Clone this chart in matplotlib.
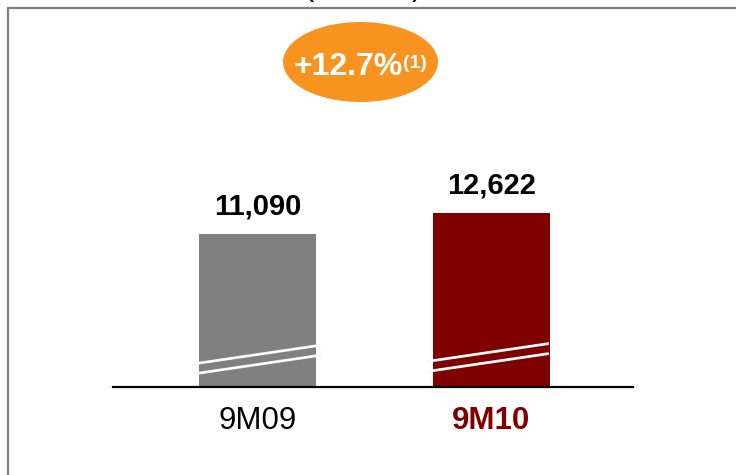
import matplotlib.pyplot as plt
from matplotlib.patches import Ellipse
from matplotlib.lines import Line2D
import matplotlib.patheffects as pe

plt.rcParams['font.family'] = ['Liberation Sans', 'DejaVu Sans']

periods = ['9M09', '9M10']
values = [11090, 12622]
value_labels = ['11,090', '12,622']
growth_label = '+12.7%'
growth_note = '(1)'

bar_colors = ['#808080', '#800000']
tick_colors = ['#000000', '#800000']
tick_weights = ['normal', 'bold']

W, H = 736, 475
fig = plt.figure(figsize=(W / 100, H / 100), dpi=100)
ax = fig.add_axes([113 / W, (H - 386.5) / H, 520 / W, 286.5 / H])

x = list(range(len(periods)))
ax.bar(x, values, width=0.5, color=bar_colors, zorder=2)
ax.set_xlim(-0.6175, 1.605)
ax.set_ylim(0, 20900)

# value labels above bars
for xi, v, lab in zip(x, values, value_labels):
    ax.annotate(lab, (xi, v), xytext=(0, 14.5), textcoords='offset points',
                ha='center', va='baseline', fontsize=21, fontweight='bold')

# axis break marks across each bar
for xi, shift, ext in zip(x, [0, 180], [0.2756, 0.245]):
    for y0 in [1642, 912]:
        ax.plot([xi - 0.2756, xi + ext], [y0 + shift, y0 + shift + 1386 * (0.2756 + ext) / 0.5512],
                color='white', lw=1.2, zorder=3, solid_capstyle='butt',
                path_effects=[pe.Stroke(linewidth=2.0, foreground='#ececec'), pe.Normal()])

ax.set_xticks(x)
ax.set_xticklabels(periods, fontsize=22.5)
for t, c, w in zip(ax.get_xticklabels(), tick_colors, tick_weights):
    t.set_color(c)
    t.set_fontweight(w)
ax.tick_params(axis='x', length=0, pad=14)
ax.set_yticks([])
for s in ['top', 'right', 'left']:
    ax.spines[s].set_visible(False)
ax.spines['bottom'].set_linewidth(1.6)

# growth bubble
bub = fig.add_axes([0, 0, 1, 1], facecolor='none')
bub.set_xlim(0, W)
bub.set_ylim(H, 0)
bub.axis('off')
bub.add_patch(Ellipse((360.5, 62), 155, 80, color='#F7931E', lw=0))
bub.text(294, 75, growth_label, color='white', fontsize=23, fontweight='bold',
         ha='left', va='baseline')
bub.text(403.5, 68, growth_note, color='white', fontsize=14, fontweight='bold',
         ha='left', va='baseline')

# header parentheses (cut off at the top edge, as in the source) and frame
bub.text(303, 2.5, '(', fontsize=22, ha='left', va='bottom')
bub.text(412, 2.5, ')', fontsize=22, ha='left', va='bottom')
fig.add_artist(Line2D([8 / W, 1], [1 - 7.5 / H, 1 - 7.5 / H], color='#808080', lw=1.6))
fig.add_artist(Line2D([8 / W, 8 / W], [0, 1 - 7.5 / H], color='#808080', lw=1.6))

fig.savefig('out.png', dpi=100)
